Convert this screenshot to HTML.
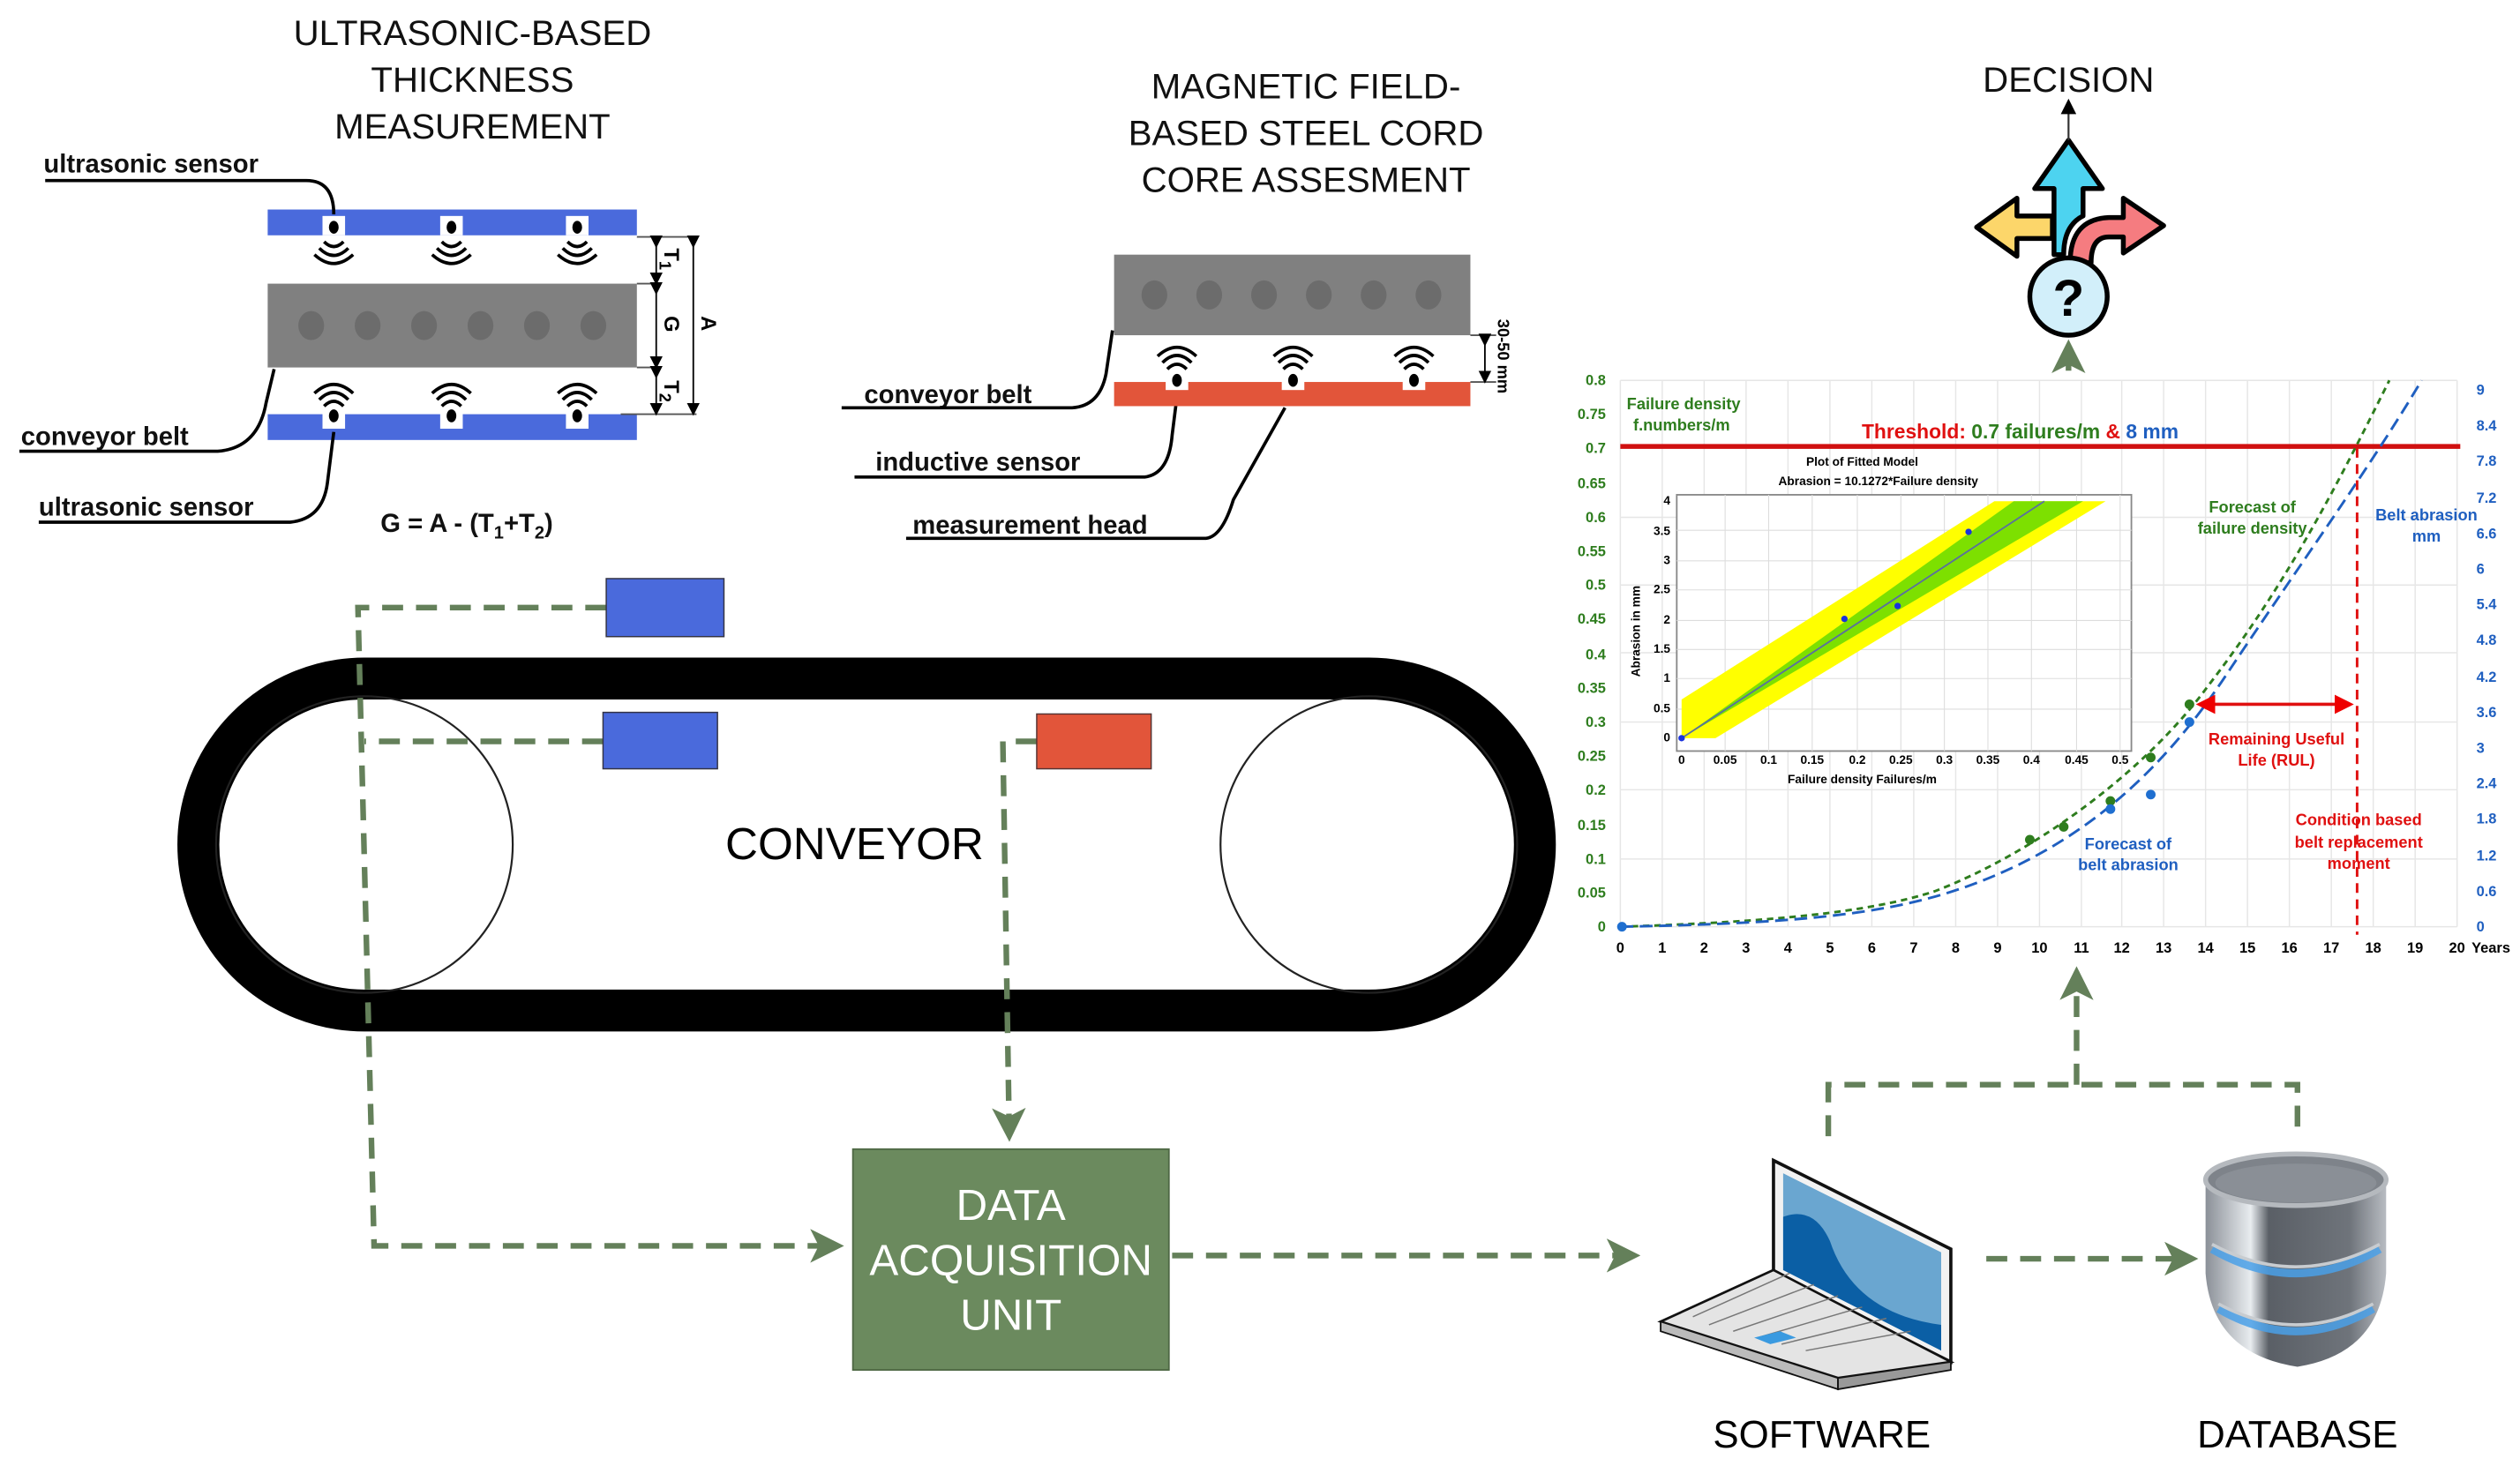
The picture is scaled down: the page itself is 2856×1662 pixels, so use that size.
<!DOCTYPE html>
<html><head><meta charset="utf-8"><style>
html,body{margin:0;padding:0;background:#fff;}
svg{display:block;}
text{font-family:"Liberation Sans",sans-serif;}
</style></head><body>
<svg width="2856" height="1662" viewBox="0 0 1563 909.6" xmlns="http://www.w3.org/2000/svg">
<defs>
<marker id="ga" markerWidth="6" markerHeight="6" refX="5" refY="3" orient="auto" markerUnits="strokeWidth"><path d="M0,0 L6,3 L0,6 L1.5,3 z" fill="#64805a"/></marker>
<marker id="ka" markerWidth="8" markerHeight="8" refX="4" refY="4" orient="auto"><path d="M0,0 L8,4 L0,8 z" fill="#000"/></marker>
<marker id="ra" markerWidth="6" markerHeight="6" refX="5" refY="3" orient="auto" markerUnits="strokeWidth"><path d="M0,0 L6,3 L0,6 z" fill="#e00"/></marker>
<marker id="ra2" markerWidth="6" markerHeight="6" refX="1" refY="3" orient="auto" markerUnits="strokeWidth"><path d="M6,0 L0,3 L6,6 z" fill="#e00"/></marker>
<linearGradient id="db" x1="0" x2="1"><stop offset="0" stop-color="#8b9098"/><stop offset="0.25" stop-color="#e8ecef"/><stop offset="0.35" stop-color="#5a5f66"/><stop offset="0.8" stop-color="#6f747b"/><stop offset="1" stop-color="#b8bcc2"/></linearGradient>
</defs>

<!-- titles -->
<g font-size="22" text-anchor="middle" fill="#111">
<text x="293" y="28">ULTRASONIC-BASED</text><text x="293" y="57">THICKNESS</text><text x="293" y="86">MEASUREMENT</text>
<text x="810" y="61">MAGNETIC FIELD-</text><text x="810" y="90">BASED STEEL CORD</text><text x="810" y="119">CORE ASSESMENT</text>
<text x="1283" y="57">DECISION</text>
</g>

<!-- ultrasonic diagram -->
<rect x="166" y="130" width="229" height="16" fill="#4a6adc"/>
<rect x="166" y="257" width="229" height="16" fill="#4a6adc"/>
<rect x="166" y="176" width="229" height="52" fill="#808080"/>
<g fill="#6c6c6c"><ellipse cx="193" cy="202" rx="8" ry="9"/><ellipse cx="228" cy="202" rx="8" ry="9"/><ellipse cx="263" cy="202" rx="8" ry="9"/><ellipse cx="298" cy="202" rx="8" ry="9"/><ellipse cx="333" cy="202" rx="8" ry="9"/><ellipse cx="368" cy="202" rx="8" ry="9"/></g>
<g fill="#fff"><rect x="200" y="134" width="14" height="12"/><rect x="273" y="134" width="14" height="12"/><rect x="351" y="134" width="14" height="12"/>
<rect x="200" y="252" width="14" height="14"/><rect x="273" y="252" width="14" height="14"/><rect x="351" y="252" width="14" height="14"/></g>
<g fill="#000"><ellipse cx="207" cy="141" rx="3" ry="4"/><ellipse cx="280" cy="141" rx="3" ry="4"/><ellipse cx="358" cy="141" rx="3" ry="4"/>
<ellipse cx="207" cy="258" rx="3" ry="4"/><ellipse cx="280" cy="258" rx="3" ry="4"/><ellipse cx="358" cy="258" rx="3" ry="4"/></g>
<g fill="none" stroke="#000" stroke-width="2">
<path d="M201,150 q6,6 12,0 M198,154 q9,9 18,0 M195,158 q12,11 24,0"/>
<path d="M274,150 q6,6 12,0 M271,154 q9,9 18,0 M268,158 q12,11 24,0"/>
<path d="M352,150 q6,6 12,0 M349,154 q9,9 18,0 M346,158 q12,11 24,0"/>
<path d="M201,252 q6,-6 12,0 M198,248 q9,-9 18,0 M195,244 q12,-11 24,0"/>
<path d="M274,252 q6,-6 12,0 M271,248 q9,-9 18,0 M268,244 q12,-11 24,0"/>
<path d="M352,252 q6,-6 12,0 M349,248 q9,-9 18,0 M346,244 q12,-11 24,0"/>
</g>
<g stroke="#555" stroke-width="1"><line x1="395" y1="147" x2="432" y2="147"/><line x1="395" y1="176" x2="410" y2="176"/><line x1="395" y1="228" x2="410" y2="228"/><line x1="385" y1="257" x2="432" y2="257"/></g>
<g stroke="#000" stroke-width="1" marker-end="url(#ka)" marker-start="url(#ka)">
<line x1="407" y1="150" x2="407" y2="173"/><line x1="407" y1="179" x2="407" y2="225"/><line x1="407" y1="231" x2="407" y2="254"/><line x1="430" y1="150" x2="430" y2="254"/>
</g>
<g font-size="13" font-weight="bold"><text transform="translate(412,154) rotate(90)">T<tspan font-size="10" dy="3">1</tspan></text>
<text transform="translate(412,196) rotate(90)">G</text><text transform="translate(412,236) rotate(90)">T<tspan font-size="10" dy="3">2</tspan></text>
<text transform="translate(435,196) rotate(90)">A</text></g>
<g font-size="16" font-weight="bold" fill="#111">
<text x="27" y="107">ultrasonic sensor</text><text x="13" y="276">conveyor belt</text><text x="24" y="320">ultrasonic sensor</text>
<text x="236" y="330">G = A - (T<tspan font-size="11" dy="4">1</tspan><tspan dy="-4">+T</tspan><tspan font-size="11" dy="4">2</tspan><tspan dy="-4">)</tspan></text>
<text x="536" y="250">conveyor belt</text><text x="543" y="292">inductive sensor</text><text x="566" y="331">measurement head</text>
</g>
<g fill="none" stroke="#000" stroke-width="2">
<path d="M28,112 H190 Q207,112 207,133"/>
<path d="M12,280 H135 Q160,278 165,250 L170,229"/>
<path d="M24,324 H180 Q200,322 203,300 L207,268"/>
<path d="M522,253 H665 Q682,252 686,232 L690,205"/>
<path d="M530,296 H710 Q725,294 727,270 L730,246"/>
<path d="M562,334 H748 Q758,333 765,310 L797,253"/>
</g>

<!-- magnetic diagram -->
<rect x="691" y="158" width="221" height="50" fill="#808080"/>
<g fill="#6c6c6c"><ellipse cx="716" cy="183" rx="8" ry="9"/><ellipse cx="750" cy="183" rx="8" ry="9"/><ellipse cx="784" cy="183" rx="8" ry="9"/><ellipse cx="818" cy="183" rx="8" ry="9"/><ellipse cx="852" cy="183" rx="8" ry="9"/><ellipse cx="886" cy="183" rx="8" ry="9"/></g>
<rect x="691" y="237" width="221" height="15" fill="#e2553a"/>
<g fill="#fff"><rect x="723" y="228" width="14" height="14"/><rect x="795" y="228" width="14" height="14"/><rect x="870" y="228" width="14" height="14"/></g>
<g fill="#000"><ellipse cx="730" cy="236" rx="3" ry="4"/><ellipse cx="802" cy="236" rx="3" ry="4"/><ellipse cx="877" cy="236" rx="3" ry="4"/></g>
<g fill="none" stroke="#000" stroke-width="2">
<path d="M724,229 q6,-6 12,0 M721,225 q9,-9 18,0 M718,221 q12,-11 24,0"/>
<path d="M796,229 q6,-6 12,0 M793,225 q9,-9 18,0 M790,221 q12,-11 24,0"/>
<path d="M871,229 q6,-6 12,0 M868,225 q9,-9 18,0 M865,221 q12,-11 24,0"/>
</g>
<g stroke="#555" stroke-width="1"><line x1="912" y1="208" x2="928" y2="208"/><line x1="912" y1="237" x2="928" y2="237"/></g>
<line x1="921" y1="211" x2="921" y2="234" stroke="#000" stroke-width="1" marker-start="url(#ka)" marker-end="url(#ka)"/>
<text transform="translate(929,198) rotate(90)" font-size="10" font-weight="bold">30-50 mm</text>

<!-- conveyor -->
<rect x="123" y="421" width="829" height="206" rx="103" fill="none" stroke="#000" stroke-width="26"/>
<circle cx="226" cy="524" r="92" fill="none" stroke="#222" stroke-width="1.2"/>
<circle cx="849" cy="524" r="92" fill="none" stroke="#222" stroke-width="1.2"/>
<text x="530" y="533" font-size="28" text-anchor="middle">CONVEYOR</text>

<!-- dashed connectors -->
<g fill="none" stroke="#64805a" stroke-width="3.5" stroke-dasharray="13,8">
<path d="M376,377 H222 L232,773 H520" marker-end="url(#ga)"/>
<path d="M374,460 H226"/>
<path d="M643,460 H622 L626,705" marker-end="url(#ga)"/>
<path d="M727,779 H1014" marker-end="url(#ga)"/>
<path d="M1232,781 H1360" marker-end="url(#ga)"/>
<path d="M1134,705 V673 H1425 V700"/>
<path d="M1288,673 V603" marker-end="url(#ga)"/>
<path d="M1283,230 V214" marker-end="url(#ga)"/>
</g>
<rect x="376" y="359" width="73" height="36" fill="#4a6adc" stroke="#334" stroke-width="0.8"/>
<rect x="374" y="442" width="71" height="35" fill="#4a6adc" stroke="#334" stroke-width="0.8"/>
<rect x="643" y="443" width="71" height="34" fill="#e2553a" stroke="#533" stroke-width="0.8"/>

<!-- DAQ -->
<rect x="529" y="713" width="196" height="137" fill="#6b8a5e" stroke="#4e6844" stroke-width="1"/>
<g font-size="27" fill="#fff" text-anchor="middle"><text x="627" y="757">DATA</text><text x="627" y="791">ACQUISITION</text><text x="627" y="825">UNIT</text></g>

<!-- laptop -->
<polygon points="1100,720 1210,775 1210,845 1100,790" fill="#f2f2f2" stroke="#111" stroke-width="2"/>
<polygon points="1106,728 1204,777 1204,838 1106,788" fill="#6aa6d0"/>
<path d="M1106,755 Q1125,748 1135,770 Q1150,815 1204,822 V838 L1106,788 z" fill="#0b5fa5"/>
<polygon points="1030,820 1100,788 1210,845 1140,855" fill="#e4e4e4" stroke="#111" stroke-width="1.5"/>
<polygon points="1030,820 1140,855 1140,862 1030,826" fill="#bbb" stroke="#111" stroke-width="1"/>
<polygon points="1140,855 1210,845 1210,850 1140,862" fill="#999" stroke="#111" stroke-width="1"/>
<g stroke="#777" stroke-width="0.8"><line x1="1050" y1="817" x2="1110" y2="790"/><line x1="1060" y1="822" x2="1125" y2="797"/><line x1="1075" y1="826" x2="1140" y2="804"/><line x1="1090" y1="830" x2="1155" y2="811"/><line x1="1105" y1="834" x2="1170" y2="818"/><line x1="1120" y1="838" x2="1185" y2="826"/></g>
<polygon points="1088,830 1104,826 1114,830 1098,834" fill="#3a9ae0"/>
<g font-size="24" text-anchor="middle"><text x="1130" y="898">SOFTWARE</text><text x="1425" y="898">DATABASE</text></g>

<!-- database -->
<path d="M1368,732 V790 Q1372,840 1425,848 Q1476,840 1480,790 V732 z" fill="url(#db)"/>
<ellipse cx="1424" cy="732" rx="56" ry="16" fill="#7e838a" stroke="#b5b9be" stroke-width="3"/>
<ellipse cx="1424" cy="734" rx="50" ry="12" fill="#8a8f96"/>
<path d="M1372,775 Q1424,805 1476,775" fill="none" stroke="#4aa0e8" stroke-width="5" opacity="0.85"/>
<path d="M1376,812 Q1424,840 1472,812" fill="none" stroke="#4aa0e8" stroke-width="5" opacity="0.85"/>
<path d="M1372,772 Q1424,800 1476,772" fill="none" stroke="#c8ccd0" stroke-width="2"/>
<path d="M1376,809 Q1424,835 1472,809" fill="none" stroke="#c8ccd0" stroke-width="2"/>

<!-- decision icon -->
<g stroke="#000" stroke-width="3" stroke-linejoin="round">
<path d="M1273,148 H1251 V159 L1226,141 L1251,123 V134 H1273 z" fill="#fcd66a"/>
<path d="M1284,163 Q1284,136 1308,135 H1317 V123 L1342,140 L1317,157 V147 H1308 Q1297,147 1297,163 z" fill="#f57c80"/>
<path d="M1274,158 V117 H1262 L1283,87 L1304,117 H1292 V134 Q1280,140 1280,158 z" fill="#4dd3f0"/>
<circle cx="1283" cy="184" r="24" fill="#d2effa"/>
</g>
<text x="1283" y="196" font-size="32" font-weight="bold" text-anchor="middle">?</text>
<line x1="1283" y1="87" x2="1283" y2="66" stroke="#333" stroke-width="1.2" marker-end="url(#ka)"/>

<!-- chart -->
<g stroke="#e6e6e6" stroke-width="0.8">
<path d="M1005,236 V575 M1031,236 V575 M1057,236 V575 M1083,236 V575 M1109,236 V575 M1135,236 V575 M1161,236 V575 M1187,236 V575 M1213,236 V575 M1239,236 V575 M1265,236 V575 M1291,236 V575 M1316,236 V575 M1342,236 V575 M1368,236 V575 M1394,236 V575 M1420,236 V575 M1446,236 V575 M1472,236 V575 M1498,236 V575 M1524,236 V575"/>
<path d="M1005,236 H1524 M1005,278 H1524 M1005,321 H1524 M1005,363 H1524 M1005,405 H1524 M1005,448 H1524 M1005,490 H1524 M1005,533 H1524 M1005,575 H1524"/>
</g>
<g font-size="9" font-weight="bold" fill="#2e7d1e" text-anchor="end">
<text x="996" y="239">0.8</text><text x="996" y="260">0.75</text><text x="996" y="281">0.7</text><text x="996" y="303">0.65</text><text x="996" y="324">0.6</text><text x="996" y="345">0.55</text><text x="996" y="366">0.5</text><text x="996" y="387">0.45</text><text x="996" y="409">0.4</text><text x="996" y="430">0.35</text><text x="996" y="451">0.3</text><text x="996" y="472">0.25</text><text x="996" y="493">0.2</text><text x="996" y="515">0.15</text><text x="996" y="536">0.1</text><text x="996" y="557">0.05</text><text x="996" y="578">0</text>
</g>
<g font-size="9" font-weight="bold" fill="#1f5fc0">
<text x="1536" y="245">9</text><text x="1536" y="267">8.4</text><text x="1536" y="289">7.8</text><text x="1536" y="312">7.2</text><text x="1536" y="334">6.6</text><text x="1536" y="356">6</text><text x="1536" y="378">5.4</text><text x="1536" y="400">4.8</text><text x="1536" y="423">4.2</text><text x="1536" y="445">3.6</text><text x="1536" y="467">3</text><text x="1536" y="489">2.4</text><text x="1536" y="511">1.8</text><text x="1536" y="534">1.2</text><text x="1536" y="556">0.6</text><text x="1536" y="578">0</text>
</g>
<g font-size="9" font-weight="bold" text-anchor="middle">
<text x="1005" y="591">0</text><text x="1031" y="591">1</text><text x="1057" y="591">2</text><text x="1083" y="591">3</text><text x="1109" y="591">4</text><text x="1135" y="591">5</text><text x="1161" y="591">6</text><text x="1187" y="591">7</text><text x="1213" y="591">8</text><text x="1239" y="591">9</text><text x="1265" y="591">10</text><text x="1291" y="591">11</text><text x="1316" y="591">12</text><text x="1342" y="591">13</text><text x="1368" y="591">14</text><text x="1394" y="591">15</text><text x="1420" y="591">16</text><text x="1446" y="591">17</text><text x="1472" y="591">18</text><text x="1498" y="591">19</text><text x="1524" y="591">20</text><text x="1545" y="591">Years</text>
</g>
<line x1="1005" y1="277" x2="1526" y2="277" stroke="#d01010" stroke-width="3"/>
<text x="1253" y="272" font-size="12.5" font-weight="bold" text-anchor="middle"><tspan fill="#e01010">Threshold: </tspan><tspan fill="#2e7d1e">0.7 failures/m </tspan><tspan fill="#e01010">&amp; </tspan><tspan fill="#1f5fc0">8 mm</tspan></text>
<g font-size="10" font-weight="bold" fill="#2e7d1e"><text x="1009" y="254">Failure density</text><text x="1013" y="267">f.numbers/m</text></g>

<!-- inset -->
<rect x="1040" y="307" width="282" height="159" fill="#fff" stroke="#888" stroke-width="1"/>
<g stroke="#ddd" stroke-width="0.6">
<path d="M1070,307 V466 M1097,307 V466 M1124,307 V466 M1152,307 V466 M1179,307 V466 M1206,307 V466 M1233,307 V466 M1260,307 V466 M1288,307 V466 M1315,307 V466"/>
<path d="M1040,329 H1322 M1040,348 H1322 M1040,366 H1322 M1040,385 H1322 M1040,403 H1322 M1040,421 H1322 M1040,440 H1322"/>
</g>
<polygon points="1043,434 1043,458 1064,458 1306,311 1237,311" fill="#ffff00"/>
<polygon points="1043,458 1249,311 1292,311" fill="#7de000"/>
<line x1="1043" y1="458" x2="1268" y2="311" stroke="#5a6fa0" stroke-width="1"/>
<g fill="#1a33dd"><circle cx="1144" cy="384" r="2"/><circle cx="1177" cy="376" r="2"/><circle cx="1221" cy="330" r="2"/><circle cx="1043" cy="458" r="2"/></g>
<g font-size="7.5" font-weight="bold" text-anchor="end"><text x="1036" y="313">4</text><text x="1036" y="332">3.5</text><text x="1036" y="350">3</text><text x="1036" y="368">2.5</text><text x="1036" y="387">2</text><text x="1036" y="405">1.5</text><text x="1036" y="423">1</text><text x="1036" y="442">0.5</text><text x="1036" y="460">0</text></g>
<g font-size="7.5" font-weight="bold" text-anchor="middle"><text x="1043" y="474">0</text><text x="1070" y="474">0.05</text><text x="1097" y="474">0.1</text><text x="1124" y="474">0.15</text><text x="1152" y="474">0.2</text><text x="1179" y="474">0.25</text><text x="1206" y="474">0.3</text><text x="1233" y="474">0.35</text><text x="1260" y="474">0.4</text><text x="1288" y="474">0.45</text><text x="1315" y="474">0.5</text>
<text x="1155" y="486">Failure density    Failures/m</text>
<text x="1155" y="289">Plot of Fitted Model</text><text x="1165" y="301">Abrasion = 10.1272*Failure density</text></g>
<text transform="translate(1017,420) rotate(-90)" font-size="7.5" font-weight="bold">Abrasion      in mm</text>

<!-- curves -->
<path d="M1005,575 C1100,572 1160,566 1200,553 C1260,530 1330,480 1370,425 C1420,360 1450,300 1482,236" fill="none" stroke="#2e7d1e" stroke-width="1.6" stroke-dasharray="4,3"/>
<path d="M1005,575 C1110,573 1170,568 1220,550 C1290,525 1340,480 1380,420 C1430,345 1470,290 1502,236" fill="none" stroke="#1f5fc0" stroke-width="1.6" stroke-dasharray="8,4"/>
<g fill="#2e7d1e"><circle cx="1259" cy="521" r="3"/><circle cx="1280" cy="513" r="3"/><circle cx="1309" cy="497" r="3"/><circle cx="1334" cy="470" r="3"/><circle cx="1358" cy="437" r="3"/></g>
<g fill="#1f6fd0"><circle cx="1309" cy="502" r="3"/><circle cx="1334" cy="493" r="3"/><circle cx="1358" cy="448" r="3"/><circle cx="1006" cy="575" r="3"/></g>
<line x1="1462" y1="278" x2="1462" y2="580" stroke="#e01010" stroke-width="1.6" stroke-dasharray="6,4"/>
<line x1="1364" y1="437" x2="1458" y2="437" stroke="#e01010" stroke-width="2" marker-end="url(#ra)" marker-start="url(#ra2)"/>
<g font-size="10" font-weight="bold" text-anchor="middle">
<text x="1397" y="318" fill="#2e7d1e">Forecast of</text><text x="1397" y="331" fill="#2e7d1e">failure density</text>
<text x="1505" y="323" fill="#1f5fc0">Belt abrasion</text><text x="1505" y="336" fill="#1f5fc0">mm</text>
<text x="1412" y="462" fill="#e01010">Remaining Useful</text><text x="1412" y="475" fill="#e01010">Life  (RUL)</text>
<text x="1463" y="512" fill="#e01010">Condition based</text><text x="1463" y="526" fill="#e01010">belt replacement</text><text x="1463" y="539" fill="#e01010">moment</text>
<text x="1320" y="527" fill="#1f5fc0">Forecast of</text><text x="1320" y="540" fill="#1f5fc0">belt abrasion</text>
</g>
</svg>
</body></html>
